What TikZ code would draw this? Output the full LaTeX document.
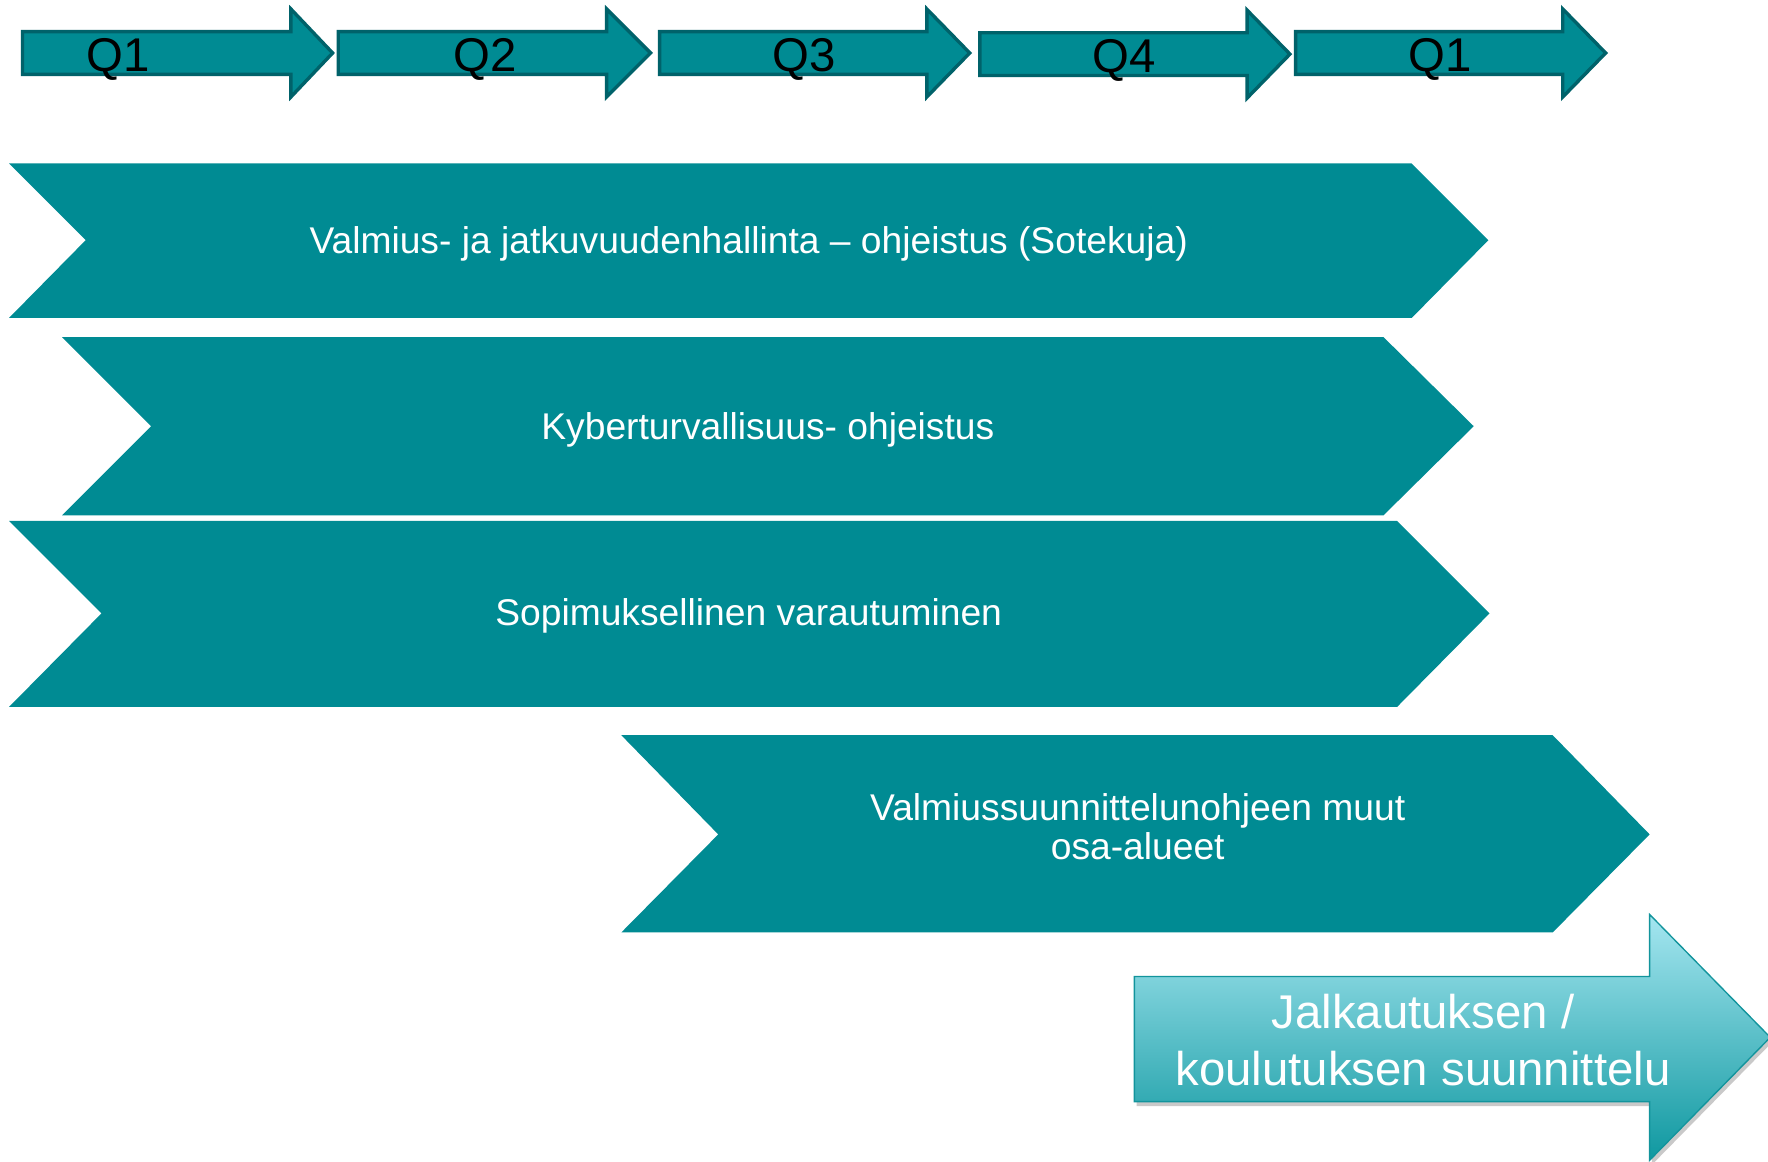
\documentclass[tikz,border=0pt]{standalone}
\usepackage{fontspec}
\setmainfont{Liberation Sans}
\usetikzlibrary{shadows}
\definecolor{tealfill}{RGB}{0,139,147}
\definecolor{tealdark}{RGB}{0,98,106}
\definecolor{grtop}{RGB}{165,230,240}
\definecolor{grbot}{RGB}{15,152,160}
\definecolor{grline}{RGB}{18,148,156}
\begin{document}
\begin{tikzpicture}[x=1pt,y=-1pt,
  qarrow/.style={fill=tealfill,draw=tealdark,line width=3pt,line join=miter},
  qlabel/.style={font=\fontsize{42}{42}\selectfont,text=black,inner sep=0pt,anchor=base},
  chev/.style={fill=tealfill},
  chevlabel/.style={font=\fontsize{33}{34}\selectfont,text=white,align=center,inner sep=0pt,anchor=base},
  bigarrow/.style={top color=grtop,bottom color=grbot,draw=grline,line width=1.2pt,
     drop shadow={shadow xshift=2pt,shadow yshift=-4pt,opacity=0.35,fill=black!60}},
  biglabel/.style={font=\fontsize{42}{51}\selectfont,text=white,align=center,inner sep=0pt,anchor=base}]
\useasboundingbox (0,0) rectangle (1568,1030);
\clip (0,0) rectangle (1568,1030);
\fill[white] (0,0) rectangle (1568,1030);
% top quarter arrows
\foreach \a/\h/\t/\lx/\lab/\n/\dy in {20/258/295/105/Q1/qa/0, 300/538/577/430/Q2/qb/0, 585/822/860/713/Q3/qc/0, 869/1106/1144/997/Q4/qd/1, 1149/1386/1424/1277/Q1/qe/0}{
  \draw[qarrow] (\a,28+\dy) -- (\h,28+\dy) -- (\h,8+\dy) -- (\t,47+\dy) -- (\h,86+\dy) -- (\h,66+\dy) -- (\a,66+\dy) -- cycle;
  \node[qlabel] (\n) at (\lx,63+\dy) {\lab};
}
% chevrons
\fill[chev] (8,145) -- (1252,145) -- (1320,213) -- (1252,282) -- (8,282) -- (76,213) -- cycle;
\node[chevlabel] (c1) at (664,225) {Valmius- ja jatkuvuudenhallinta – ohjeistus (Sotekuja)};
\fill[chev] (55,299) -- (1227,299) -- (1307,378) -- (1227,457) -- (55,457) -- (134,378) -- cycle;
\node[chevlabel] (c2) at (681,390) {Kyberturvallisuus- ohjeistus};
\fill[chev] (8,462) -- (1239,462) -- (1321,544) -- (1239,627) -- (8,627) -- (90,544) -- cycle;
\node[chevlabel] (c3) at (664,555) {Sopimuksellinen varautuminen};
\fill[chev] (551,652) -- (1377,652) -- (1463,740) -- (1377,827) -- (551,827) -- (637,740) -- cycle;
\node[chevlabel] (c4) at (1009,762) {Valmiussuunnittelunohjeen muut\\osa-alueet};
% bottom gradient arrow
\draw[bigarrow] (1006,866) -- (1463,866) -- (1463,811) -- (1570,920) -- (1463,1029) -- (1463,977) -- (1006,977) -- cycle;
\node[biglabel] (b1) at (1262,963) {Jalkautuksen /\\koulutuksen suunnittelu};
\end{tikzpicture}
\end{document}
